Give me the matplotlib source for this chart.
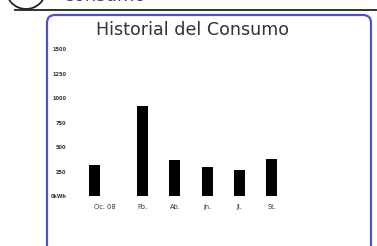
import numpy as np
import matplotlib
matplotlib.use("Agg")
import matplotlib.pyplot as plt
from matplotlib.patches import FancyBboxPatch, Circle

# datos
meses = ["Oc. 08", "Fb.", "Ab.", "Jn.", "Jl.", "St."]
consumo = [320, 915, 370, 300, 265, 375]
yticks = [0, 250, 500, 750, 1000, 1250, 1500]
ylabels = ["0kWh", "250", "500", "750", "1000", "1250", "1500"]

W, H = 377, 246
fig = plt.figure(figsize=(W / 100, H / 100), dpi=100)
fig.patch.set_facecolor("white")

# capa de fondo en pixeles
bg = fig.add_axes([0, 0, 1, 1])
bg.set_xlim(0, W)
bg.set_ylim(H, 0)
bg.axis("off")

# cabecera cortada
bg.add_patch(Circle((26, -11), 20, fill=False, ec="#222222", lw=1.3, clip_on=True))
bg.plot([15, W], [10, 10], color="#222222", lw=1.3)
bg.text(64, 5, "consumo", fontsize=13, color="#444444", va="bottom", ha="left")

# panel redondeado
panel = FancyBboxPatch((47, 15), 324, 260, boxstyle="round,pad=0,rounding_size=8",
                       fc="white", ec="#5050c8", lw=1.6)
bg.add_patch(panel)
bg.text(193, 30, "Historial del Consumo", fontsize=12.6, color="#333333",
        ha="center", va="center")

# grafico de barras
ax = fig.add_axes([62 / W, 50 / H, 242 / W, 147 / H])
x = np.arange(len(meses)) + (np.arange(len(meses)) > 0) * 0.5
ax.bar(x, consumo, width=0.34, color="black")
ax.set_xlim(-1, 6.5)
ax.set_ylim(0, 1500)
ax.set_xticks(x)
ax.set_xticklabels(meses, fontsize=4.8, color="#333333")
ax.get_xticklabels()[0].set_ha("left")
ax.set_yticks(yticks)
ax.set_yticklabels(ylabels, fontsize=3.6, color="#333333", fontweight="bold")
ax.tick_params(axis="x", length=0, pad=6)
ax.tick_params(axis="y", length=0, pad=-3)
for s in ax.spines.values():
    s.set_visible(False)
ax.patch.set_alpha(0)

fig.savefig("out.png", dpi=100)
